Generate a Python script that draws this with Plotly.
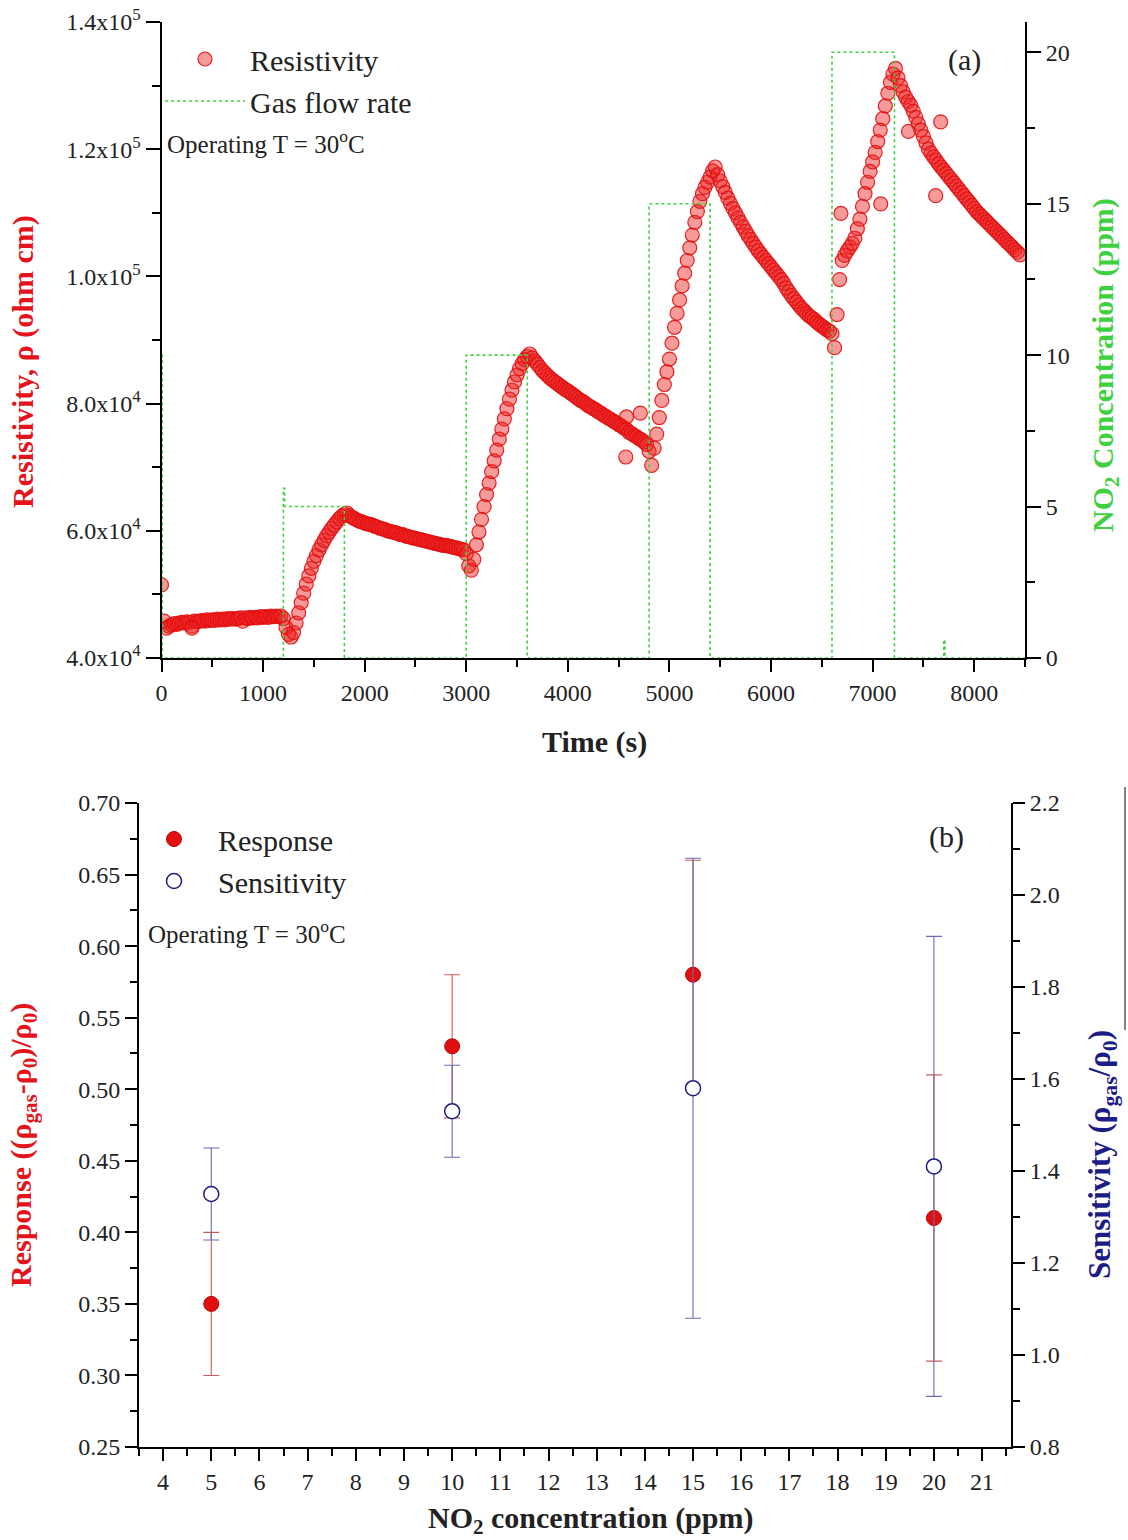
import plotly.graph_objects as go

W, H = 1128, 1540
FONT = "Liberation Serif"

# ---------------- panel (a): resistivity and NO2 exposure vs time ----------------
time_s = list(range(0, 8451, 25))

# resistivity in units of 1e4 ohm cm, one list per 1000 s block (25 s steps)
rho_0000 = [5.15, 4.58, 4.47, 4.50, 4.52, 4.54, 4.53, 4.55, 4.56, 4.55,
            4.57, 4.56, 4.50, 4.58, 4.57, 4.58, 4.59, 4.58, 4.60, 4.59,
            4.60, 4.59, 4.61, 4.60, 4.61, 4.60, 4.62, 4.61, 4.62, 4.61,
            4.62, 4.63, 4.58, 4.63, 4.62, 4.64, 4.63, 4.64, 4.63, 4.65]
rho_1000 = [4.64, 4.65, 4.64, 4.66, 4.65, 4.66, 4.65, 4.66, 4.62, 4.48,
            4.37, 4.33, 4.40, 4.55, 4.71, 4.87, 5.02, 5.16, 5.29, 5.41,
            5.52, 5.61, 5.70, 5.78, 5.85, 5.92, 5.98, 6.04, 6.09, 6.14,
            6.19, 6.23, 6.26, 6.28, 6.24, 6.21, 6.19, 6.17, 6.15, 6.14]
rho_2000 = [6.12, 6.11, 6.10, 6.09, 6.07, 6.06, 6.04, 6.03, 6.02, 6.00,
            5.99, 5.98, 5.97, 5.96, 5.94, 5.94, 5.92, 5.91, 5.90, 5.89,
            5.88, 5.87, 5.86, 5.85, 5.84, 5.83, 5.82, 5.81, 5.80, 5.79,
            5.78, 5.77, 5.77, 5.76, 5.75, 5.74, 5.73, 5.72, 5.71, 5.70]
rho_3000 = [5.64, 5.45, 5.38, 5.55, 5.78, 5.98, 6.18, 6.38, 6.57, 6.75,
            6.93, 7.10, 7.27, 7.44, 7.60, 7.76, 7.92, 8.07, 8.21, 8.34,
            8.45, 8.55, 8.63, 8.69, 8.74, 8.78, 8.72, 8.67, 8.62, 8.57,
            8.52, 8.48, 8.44, 8.40, 8.37, 8.34, 8.31, 8.28, 8.25, 8.22]
rho_4000 = [8.20, 8.17, 8.14, 8.11, 8.08, 8.05, 8.03, 8.00, 7.97, 7.95,
            7.92, 7.90, 7.87, 7.85, 7.82, 7.80, 7.77, 7.75, 7.72, 7.70,
            7.67, 7.65, 7.62, 7.60, 7.55, 7.53, 7.50, 7.48, 7.45, 7.43,
            7.40, 7.36, 7.25, 7.03, 7.30, 7.52, 7.78, 8.05, 8.30, 8.50]
rho_5000 = [8.70, 8.95, 9.20, 9.42, 9.63, 9.85, 10.05, 10.25, 10.45, 10.65,
            10.85, 11.02, 11.18, 11.30, 11.40, 11.48, 11.56, 11.66, 11.72, 11.60,
            11.50, 11.41, 11.32, 11.23, 11.15, 11.07, 11.00, 10.92, 10.85, 10.78,
            10.71, 10.64, 10.58, 10.52, 10.46, 10.40, 10.35, 10.30, 10.25, 10.20]
rho_6000 = [10.15, 10.10, 10.05, 10.00, 9.95, 9.89, 9.82, 9.76, 9.70, 9.65,
            9.60, 9.55, 9.50, 9.46, 9.42, 9.38, 9.35, 9.32, 9.28, 9.25,
            9.22, 9.19, 9.16, 9.14, 9.10, 8.88, 9.40, 9.95, 10.25, 10.33,
            10.40, 10.46, 10.52, 10.60, 10.75, 10.90, 11.10, 11.30, 11.48, 11.65]
rho_7000 = [11.80, 11.95, 12.12, 12.30, 12.48, 12.68, 12.88, 13.05, 13.18, 13.27,
            13.12, 13.00, 12.90, 12.82, 12.75, 12.69, 12.60, 12.50, 12.40, 12.30,
            12.20, 12.10, 12.00, 11.94, 11.88, 11.83, 11.77, 11.72, 11.67, 11.62,
            11.57, 11.52, 11.47, 11.42, 11.37, 11.32, 11.27, 11.22, 11.17, 11.12]
rho_8000 = [11.07, 11.02, 10.98, 10.94, 10.90, 10.86, 10.82, 10.78, 10.74, 10.70,
            10.66, 10.62, 10.58, 10.54, 10.50, 10.46, 10.42, 10.38, 10.34]

# scattered readings off the main trend
stray_time_s = [300, 4570, 4577, 4713, 6688, 7080, 7353, 7621, 7670]
stray_rho_1e4 = [4.47, 7.16, 7.79, 7.85, 10.99, 11.14, 12.28, 11.27, 12.43]

rho_1e4 = (rho_0000 + rho_1000 + rho_2000 + rho_3000 + rho_4000
           + rho_5000 + rho_6000 + rho_7000 + rho_8000)
all_time = time_s + stray_time_s
resistivity = [v * 1e4 for v in rho_1e4 + stray_rho_1e4]

# NO2 concentration program (step-wise, held until next time)
gas_time_s = [0, 8, 1200, 1212, 1800, 3000, 3600, 4800, 5400, 6600, 7215, 7700, 7712, 8500]
gas_ppm = [10.0, 0, 5.6, 5.0, 0, 10, 0, 15, 0, 20, 0, 0.6, 0, 0]

# ---------------- panel (b): response / sensitivity vs concentration ----------------
conc_ppm = [5, 10, 15, 20]
response = [0.35, 0.53, 0.58, 0.41]
response_err = [0.05, 0.05, 0.08, 0.10]
sensitivity = [1.35, 1.53, 1.58, 1.41]
sensitivity_err = [0.10, 0.10, 0.50, 0.50]

rho_ticks = [40000, 60000, 80000, 100000, 120000, 140000]
rho_ticktext = ["4.0x10<sup>4</sup>", "6.0x10<sup>4</sup>", "8.0x10<sup>4</sup>",
                "1.0x10<sup>5</sup>", "1.2x10<sup>5</sup>", "1.4x10<sup>5</sup>"]
resp_ticks = [0.25, 0.30, 0.35, 0.40, 0.45, 0.50, 0.55, 0.60, 0.65, 0.70]
resp_ticktext = ["%.2f" % v for v in resp_ticks]
sens_ticks = [0.8, 1.0, 1.2, 1.4, 1.6, 1.8, 2.0, 2.2]
sens_ticktext = ["%.1f" % v for v in sens_ticks]


def px(x):
    return x / W


def py(y):
    return 1 - y / H


RED = "#e3141c"
GREEN = "#3fd03f"
NAVY = "#1c1c86"

fig = go.Figure()

fig.add_trace(go.Scatter(
    x=gas_time_s, y=gas_ppm, xaxis="x", yaxis="y2", mode="lines",
    line=dict(shape="hv", dash="dot", color=GREEN, width=1.6),
    name="Gas flow rate", legend="legend", legendrank=2))

fig.add_trace(go.Scatter(
    x=all_time, y=resistivity, xaxis="x", yaxis="y", mode="markers",
    marker=dict(symbol="circle", size=14, color="rgba(238,30,30,0.45)",
                line=dict(color="rgba(225,15,15,0.9)", width=1.2)),
    name="Resistivity", legend="legend", legendrank=1))

fig.add_trace(go.Scatter(
    x=conc_ppm, y=response, xaxis="x2", yaxis="y3", mode="markers",
    marker=dict(symbol="circle", size=15, color="#e01010",
                line=dict(color="#c00000", width=1)),
    error_y=dict(type="data", array=response_err, color="#cf5a5a",
                 thickness=1.1, width=8),
    name="Response", legend="legend2"))

fig.add_trace(go.Scatter(
    x=conc_ppm, y=sensitivity, xaxis="x2", yaxis="y4", mode="markers",
    marker=dict(symbol="circle", size=15, color="white",
                line=dict(color=NAVY, width=1.5)),
    error_y=dict(type="data", array=sensitivity_err, color="#6a6aae",
                 thickness=1.1, width=8),
    name="Sensitivity", legend="legend2"))

tickfont = dict(family=FONT, size=24, color="#222")
axis_common = dict(showline=True, linewidth=2, linecolor="black", showgrid=False,
                   zeroline=False, tickcolor="black", tickwidth=2, tickfont=tickfont,
                   automargin=False)

top_dom_x = [px(161.5), px(1025)]
top_dom_y = [py(658), py(22)]
bot_dom_x = [px(139), px(1011)]
bot_dom_y = [py(1447), py(803)]

fig.update_layout(
    width=W, height=H, margin=dict(l=0, r=0, t=0, b=0, autoexpand=False),
    paper_bgcolor="white", plot_bgcolor="rgba(0,0,0,0)",
    font=dict(family=FONT, color="#222"),
    # panel (a)
    xaxis=dict(domain=top_dom_x, range=[0, 8500], anchor="y", tickmode="linear",
               tick0=0, dtick=1000, ticks="outside", ticklen=12,
               minor=dict(ticks="outside", tick0=0, dtick=500, ticklen=7,
                          tickwidth=2, tickcolor="black"), **axis_common),
    xaxis3=dict(domain=top_dom_x, range=[0, 8500], anchor="y", overlaying="x",
                side="top", tickmode="linear", tick0=0, dtick=1000, ticks="inside",
                ticklen=12, showticklabels=False,
                minor=dict(ticks="inside", tick0=0, dtick=500, ticklen=7,
                           tickwidth=2, tickcolor="black"), **axis_common),
    yaxis=dict(domain=top_dom_y, range=[40000, 140000], anchor="x",
               tickmode="array", tickvals=rho_ticks, ticktext=rho_ticktext,
               ticks="outside", ticklen=14,
               minor=dict(ticks="outside", tickvals=[50000, 70000, 90000, 110000, 130000],
                          ticklen=8, tickwidth=2, tickcolor="black"), **axis_common),
    yaxis2=dict(domain=top_dom_y, range=[0, 21], anchor="x", overlaying="y",
                side="right", tickmode="linear", tick0=0, dtick=5, ticks="outside",
                ticklen=14,
                minor=dict(ticks="outside", tick0=0, dtick=2.5, ticklen=8,
                           tickwidth=2, tickcolor="black"), **axis_common),
    # panel (b)
    xaxis2=dict(domain=bot_dom_x, range=[3.5, 21.6], anchor="y3", tickmode="linear",
                tick0=4, dtick=1, ticks="outside", ticklen=12,
                minor=dict(ticks="outside", tick0=3.5, dtick=0.5, ticklen=7,
                           tickwidth=2, tickcolor="black"), **axis_common),
    xaxis4=dict(domain=bot_dom_x, range=[3.5, 21.6], anchor="y3", overlaying="x2",
                side="top", tickmode="linear", tick0=4, dtick=1, ticks="inside",
                ticklen=12, showticklabels=False,
                minor=dict(ticks="inside", tick0=3.5, dtick=0.5, ticklen=7,
                           tickwidth=2, tickcolor="black"), **axis_common),
    yaxis3=dict(domain=bot_dom_y, range=[0.25, 0.70], anchor="x2",
                tickmode="array", tickvals=resp_ticks, ticktext=resp_ticktext,
                ticks="outside", ticklen=12,
                minor=dict(ticks="outside", tick0=0.275, dtick=0.05, ticklen=7,
                           tickwidth=2, tickcolor="black"), **axis_common),
    yaxis4=dict(domain=bot_dom_y, range=[0.8, 2.2], anchor="x2", overlaying="y3",
                side="right", tickmode="array", tickvals=sens_ticks,
                ticktext=sens_ticktext, ticks="outside", ticklen=12,
                minor=dict(ticks="outside", tick0=0.9, dtick=0.2, ticklen=7,
                           tickwidth=2, tickcolor="black"), **axis_common),
    legend=dict(x=px(160), y=py(33), xanchor="left", yanchor="top",
                bgcolor="rgba(0,0,0,0)", itemwidth=80, tracegroupgap=0,
                font=dict(family=FONT, size=30, color="#222")),
    legend2=dict(x=px(130), y=py(813), xanchor="left", yanchor="top",
                 bgcolor="rgba(0,0,0,0)", itemwidth=78, tracegroupgap=0,
                 font=dict(family=FONT, size=30, color="#222")),
    # thin frame edge along the right side of panel (b)
    shapes=[dict(type="line", xref="paper", yref="paper", x0=px(1125), x1=px(1125),
                 y0=py(787), y1=py(1030), line=dict(color="#333", width=1.2))],
)

annotations = [
    # panel (a)
    dict(x=px(165), y=py(142), text="Operating T = 30<sup>o</sup>C", xanchor="left",
         font=dict(size=25)),
    dict(x=px(964), y=py(60), text="(a)", font=dict(size=30)),
    dict(x=px(23), y=py(362), text="<b>Resistivity, ρ (ohm cm)</b>", textangle=-90,
         font=dict(size=30, color=RED)),
    dict(x=px(1105), y=py(365), text="<b>NO<sub>2</sub> Concentration (ppm)</b>",
         textangle=-90, font=dict(size=30, color=GREEN)),
    dict(x=px(594), y=py(742), text="<b>Time (s)</b>", font=dict(size=30)),
    # panel (b)
    dict(x=px(146), y=py(932), text="Operating T = 30<sup>o</sup>C", xanchor="left",
         font=dict(size=25)),
    dict(x=px(947), y=py(837), text="(b)", font=dict(size=30)),
    dict(x=px(23), y=py(1145), text="<b>Response ((ρ<sub>gas</sub>-ρ<sub>0</sub>)/ρ<sub>0</sub>)</b>",
         textangle=-90, font=dict(size=30, color=RED)),
    dict(x=px(1102), y=py(1155), text="<b>Sensitivity (ρ<sub>gas</sub>/ρ<sub>0</sub>)</b>",
         textangle=-90, font=dict(size=31, color=NAVY)),
    dict(x=px(590), y=py(1520), text="<b>NO<sub>2</sub> concentration (ppm)</b>",
         font=dict(size=30)),
]
for a in annotations:
    a.setdefault("xref", "paper")
    a.setdefault("yref", "paper")
    a.setdefault("showarrow", False)
    a.setdefault("xanchor", "center")
    a.setdefault("yanchor", "middle")
    a["font"] = dict(family=FONT, color=a["font"].get("color", "#222"), size=a["font"]["size"])
fig.update_layout(annotations=annotations)

fig.write_html("out.html")
